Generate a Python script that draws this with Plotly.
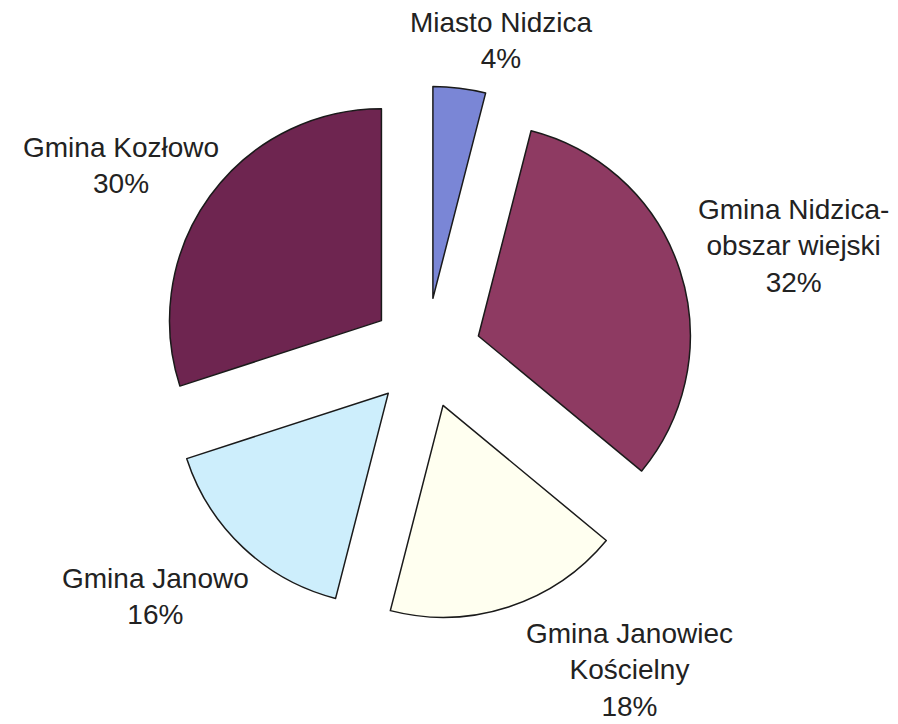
import plotly.graph_objects as go

labels = ["Miasto Nidzica", "Gmina Nidzica-obszar wiejski", "Gmina Janowiec Kościelny",
          "Gmina Janowo", "Gmina Kozłowo"]
label_text = ["Miasto Nidzica<br>4%", "Gmina Nidzica-<br>obszar wiejski<br>32%",
              "Gmina Janowiec<br>Kościelny<br>18%", "Gmina Janowo<br>16%",
              "Gmina Kozłowo<br>30%"]
values = [4, 32, 18, 16, 30]
colors = ["#7a86d6", "#8e3a62", "#fffff0", "#cdeefc", "#6e2550"]
pulls = [0.26, 0.26, 0.26, 0.26, 0.26]

# label anchor positions (paper coordinates)
label_x = [493 / 898, 785 / 898, 621 / 898, 147 / 898, 113 / 898]
label_y = [1 - 33 / 724, 1 - 238 / 724, 1 - 662 / 724, 1 - 588 / 724, 1 - 158 / 724]

W, H = 898, 724
cx, cy, size = 418, 345, 534

fig = go.Figure(go.Pie(
    labels=labels, values=values, sort=False, direction="clockwise", rotation=0,
    pull=pulls, textinfo="none", hoverinfo="label+percent",
    marker=dict(colors=colors, line=dict(color="#1a1a1a", width=1.5)),
    domain=dict(x=[(cx - size / 2) / W, (cx + size / 2) / W],
                y=[1 - (cy + size / 2) / H, 1 - (cy - size / 2) / H]),
    showlegend=False,
))

for t, x, y in zip(label_text, label_x, label_y):
    fig.add_annotation(text=t, x=x, y=y, xref="paper", yref="paper",
                       xanchor="center", yanchor="middle", showarrow=False,
                       align="center",
                       font=dict(family="Liberation Sans, Arial", size=28, color="#222222"))

fig.update_layout(width=W, height=H, margin=dict(l=0, r=0, t=0, b=0),
                  paper_bgcolor="white", plot_bgcolor="white")
fig.write_html("out.html")
